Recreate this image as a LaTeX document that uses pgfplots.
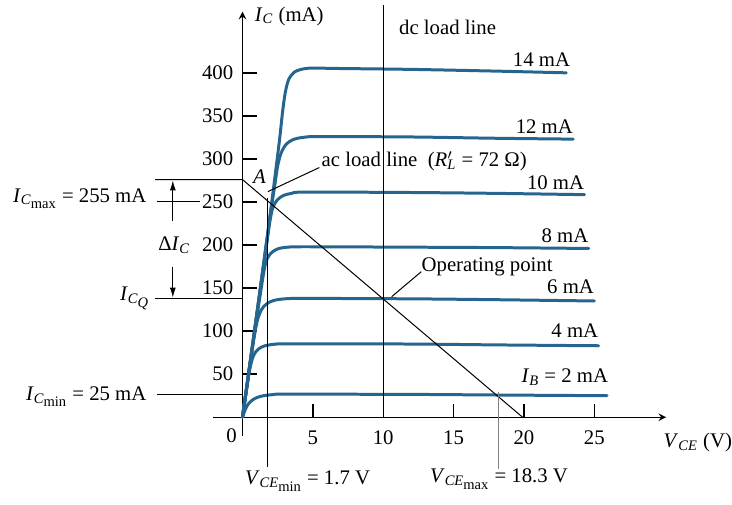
\documentclass[border=0pt]{standalone}
\usepackage{fontspec}
\setmainfont{Liberation Serif}
\usepackage{pgfplots}
\pgfplotsset{compat=1.18}
\usetikzlibrary{arrows.meta}
\definecolor{curveblue}{RGB}{38,102,142}
\newcommand{\ii}[1]{\textit{#1}}
\newcommand{\sub}[1]{\textsubscript{#1}}
% subscript with a lowered second-level subscript
\newcommand{\dsub}[2]{\textsubscript{#1\raisebox{-0.55ex}{#2}}}
\tikzset{
  curve/.style={curveblue, line width=1.5pt, smooth, tension=0.5, line cap=round},
  thin line/.style={black, line width=0.5pt},
  tickmark/.style={black, line width=0.7pt},
  lbl/.style={inner sep=0pt},
}
\begin{document}
\fontsize{10.4}{12.5}\selectfont
\begin{tikzpicture}
\begin{axis}[
  scale only axis,
  width=227pt, height=212.6pt,
  xmin=-2.1, xmax=30.1, ymin=-22, ymax=471,
  axis lines=middle,
  axis line style={line width=0.7pt},
  every axis x line/.append style={-{Latex[length=11pt,width=4.5pt]}},
  every axis y line/.append style={-{Latex[length=8pt,width=4pt]}},
  xtick={5,10,...,25}, ytick={50,100,...,400},
  major tick length=0pt,
  xticklabel style={yshift=-3pt},
  yticklabel style={xshift=-1pt},
  /pgf/number format/assume math mode=true,
  unbounded coords=jump,
  clip=false,
]
% invisible frame that fixes the page size
\path (axis cs:-17.23,-100.9) rectangle (axis cs:34.69,484.6);

% tick marks: up from the V axis, right from the I axis
\addplot[tickmark] coordinates {(5,0)(5,15) (5,nan) (10,0)(10,15) (10,nan) (15,0)(15,15) (15,nan) (20,0)(20,15) (20,nan) (25,0)(25,15)};
\addplot[tickmark] coordinates {(0,50)(1.06,50) (nan,50) (0,100)(1.06,100) (nan,100) (0,150)(1.06,150) (nan,150) (0,200)(1.06,200) (nan,200)
  (0,250)(1.06,250) (nan,250) (0,300)(1.06,300) (nan,300) (0,350)(1.06,350) (nan,350) (0,400)(1.06,400)};

% collector characteristics
\addplot[curve] coordinates {(0,0)(1,118)(2,240)(2.6,318)(2.85,355)(3.05,378)(3.3,393)(3.7,401)(4.3,404.5)(5,405.5)(7,405)(12,404)(18,402)(23.0,400)};
\addplot[curve] coordinates {(0,0)(1,118)(2,237)(2.3,270)(2.5,292)(2.75,307)(3.1,317)(3.6,322.5)(4.3,325)(5.5,326)(12,325.5)(18,324)(23.5,323)};
\addplot[curve] coordinates {(0,0)(1,117)(1.75,205)(1.95,228)(2.15,243)(2.45,252)(2.9,257.5)(3.5,260)(4.5,261.5)(12,261)(18,260)(24.3,258.5)};
\addplot[curve] coordinates {(0,0)(1,114)(1.35,152)(1.55,172)(1.75,184)(2.05,191)(2.5,195.5)(3.2,197.5)(4.5,198)(12,197.5)(18,197)(24.6,196)};
\addplot[curve] coordinates {(0,0)(0.7,80)(0.9,100)(1.1,115)(1.35,125)(1.7,131.5)(2.2,135.5)(3,137.5)(4.5,138)(12,137.5)(18,136.5)(25,135)};
\addplot[curve] coordinates {(0,0)(0.4,45)(0.55,58)(0.7,68)(0.9,75)(1.2,80)(1.6,83)(2.3,84.8)(3.5,85.3)(12,85)(18,84)(25.3,83)};
\addplot[curve] coordinates {(0,0)(0.15,7)(0.3,12.5)(0.5,17)(0.75,20.5)(1.05,23)(1.5,25)(2.2,26.3)(3.2,26.8)(12,26.5)(18,25.8)(25.9,25)};

% ac load line (with its extension to the I_Cmax label)
\addplot[thin line] coordinates {(-6.2,276) (0,276) (19.9,0)};
% dc load line
\addplot[thin line] coordinates {(10,479) (10,0)};
% guide lines
\addplot[thin line] coordinates {(-6.1,250) (-3.0,250)};
\addplot[thin line] coordinates {(-6.2,138) (0,138)};
\addplot[thin line] coordinates {(-6.1,26) (0,26)};
\addplot[thin line] coordinates {(1.8,255) (1.8,-58)};
\addplot[gray, line width=0.5pt] coordinates {(18.2,29) (18.2,-60)};

% Delta I_C arrows
\draw[thin line, -{Latex[length=5pt,width=3pt]}] (axis cs:-4.95,228) -- (axis cs:-4.95,275);
\draw[thin line, -{Latex[length=5pt,width=3pt]}] (axis cs:-4.95,175) -- (axis cs:-4.95,139);
\node[lbl] at (axis cs:-4.85,200) {Δ\ii{I}\sub{\ii{C}}};

% leaders
\draw[thin line] (axis cs:5.46,290) -- (axis cs:1.8,262);
\draw[thin line] (axis cs:12.7,169) -- (axis cs:10.6,140);

% labels
\node[lbl, anchor=west] at (axis cs:0.85,466) {\ii{I}\sub{\ii{C}} (mA)};
\node[lbl, anchor=west] at (axis cs:11.1,453) {dc load line};
\node[lbl, anchor=east] at (axis cs:23.3,415) {14 mA};
\node[lbl, anchor=east] at (axis cs:23.5,337) {12 mA};
\node[lbl, anchor=east] at (axis cs:24.3,272) {10 mA};
\node[lbl, anchor=east] at (axis cs:24.6,211) {8 mA};
\node[lbl, anchor=east] at (axis cs:25.0,151) {6 mA};
\node[lbl, anchor=east] at (axis cs:25.3,101) {4 mA};
\node[lbl, anchor=east] at (axis cs:26.0,46) {\ii{I}\sub{\ii{B}} = 2 mA};
\node[lbl, anchor=west] at (axis cs:5.6,297) {ac load line\ \ (\ii{R}\rlap{$'$}\sub{\ii{L}} = 72 Ω)};
\node[lbl] at (axis cs:1.2,279) {\ii{A}};
\node[lbl, anchor=west] at (axis cs:12.7,175) {Operating point};
\node[lbl, anchor=west] at (axis cs:29.9,-29) {\ii{V}\sub{\ii{CE}} (V)};
\node[lbl, anchor=west] at (axis cs:0.15,-74) {\ii{V}\dsub{\ii{CE}}{min} = 1.7 V};
\node[lbl, anchor=west] at (axis cs:13.3,-72) {\ii{V}\dsub{\ii{CE}}{max} = 18.3 V};
\node[lbl, anchor=east] at (axis cs:-6.8,254) {\ii{I}\dsub{\ii{C}}{max} = 255 mA};
\node[lbl, anchor=east] at (axis cs:-6.6,138) {\ii{I}\dsub{\ii{C}}{\ii{Q}}};
\node[lbl, anchor=east] at (axis cs:-6.8,24) {\ii{I}\dsub{\ii{C}}{min} = 25 mA};
\node[lbl] at (axis cs:-0.78,-22) {0};
\end{axis}
\end{tikzpicture}
\end{document}
